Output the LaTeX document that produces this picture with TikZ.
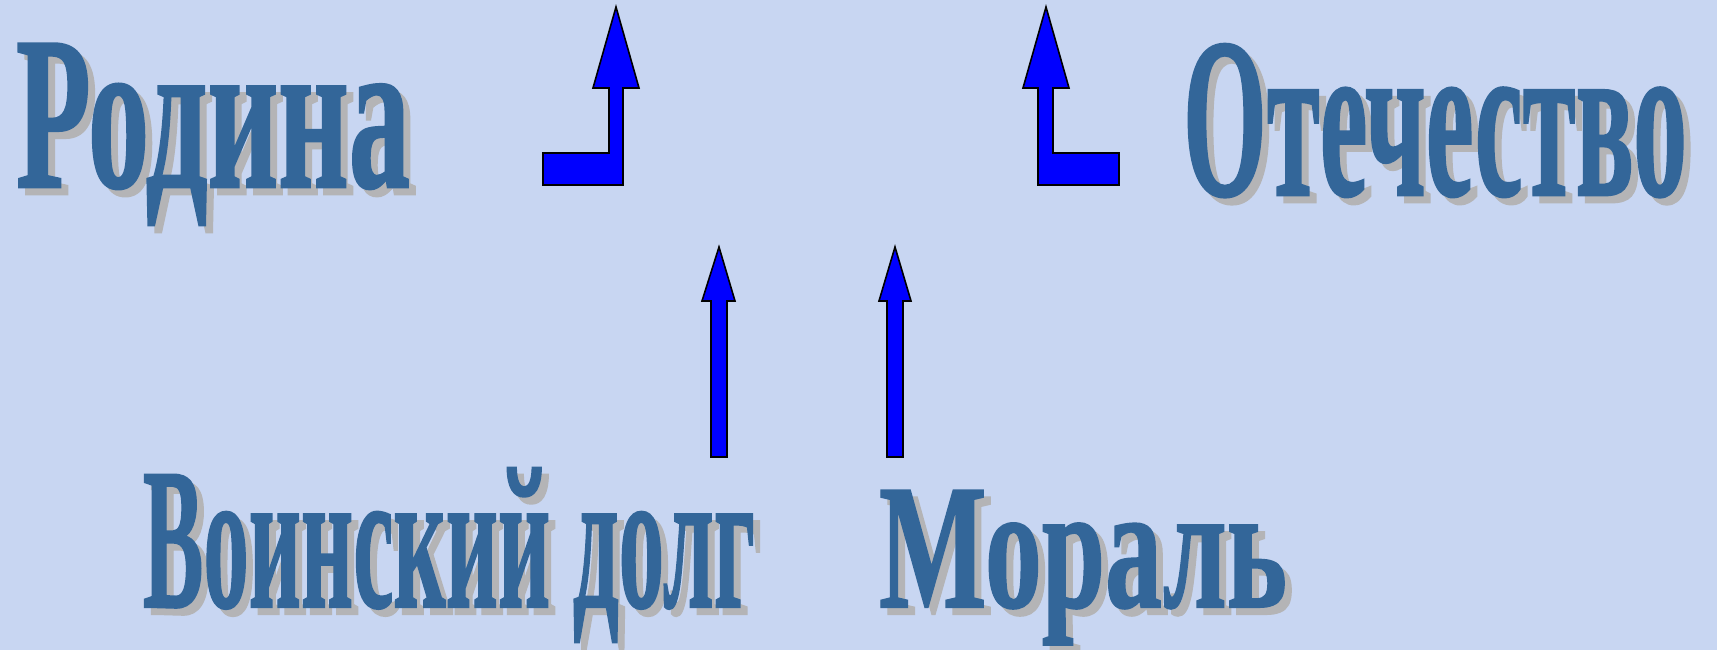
\documentclass[tikz,border=0pt]{standalone}
\usepackage{fontspec}
\usepackage{graphicx}
\setmainfont{Liberation Serif}[BoldFeatures={FakeBold=1.2}]
\definecolor{bgcol}{RGB}{200,214,242}
\definecolor{txtblue}{RGB}{51,102,153}
\definecolor{shadowgrey}{RGB}{180,180,182}
\definecolor{arrowblue}{RGB}{0,0,255}
\newcommand{\wordart}[3]{\resizebox{#1pt}{\height}{\fontsize{#2}{#2}\selectfont\bfseries #3}}
\newcommand{\shadowed}[3]{\makebox[0pt][l]{\hspace*{7pt}\raisebox{-7pt}{\color{shadowgrey}\wordart{#1}{#2}{#3}}}\wordart{#1}{#2}{#3}}
\tikzset{
  px/.style={x=1pt,y=-1pt},
  word/.style={inner sep=0pt, outer sep=0pt, anchor=base west, text=txtblue},
  blockarrow/.style={fill=arrowblue, draw=black, line width=1.6pt, line join=miter}
}
\begin{document}
\begin{tikzpicture}[px]
\useasboundingbox (0,0) rectangle (1717,650);
\fill[bgcol] (0,0) rectangle (1717,650);
% words with shadows
\node[word] (rodina) at (16,187) {\shadowed{394}{219}{Родина}};
\node[word] (otech) at (1183,195) {\shadowed{504}{228}{Отечество}};
\node[word] (dolg) at (143,607) {\shadowed{612}{202}{Воинский долг}};
\node[word] (moral) at (879,607) {\shadowed{408}{178}{Мораль}};
% arrows
\draw[blockarrow] (616,7) -- (639,88) -- (623,88) -- (623,185) -- (543,185) -- (543,153) -- (609,153) -- (609,88) -- (593,88) -- cycle;
\draw[blockarrow] (1046,7) -- (1069,88) -- (1053,88) -- (1053,153) -- (1119,153) -- (1119,185) -- (1038,185) -- (1038,88) -- (1023,88) -- cycle;
\draw[blockarrow] (719,247) -- (735,301) -- (727,301) -- (727,457) -- (711,457) -- (711,301) -- (702,301) -- cycle;
\draw[blockarrow] (895,247) -- (911,301) -- (903,301) -- (903,457) -- (887,457) -- (887,301) -- (879,301) -- cycle;
\end{tikzpicture}
\end{document}
